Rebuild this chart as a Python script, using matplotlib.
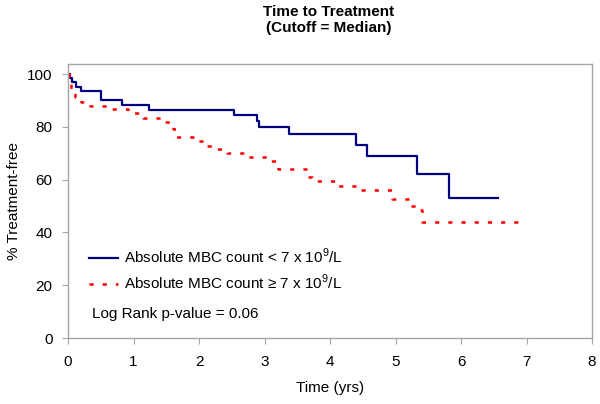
import matplotlib
matplotlib.use("Agg")
import matplotlib.pyplot as plt

plt.rcParams['font.family'] = ['Liberation Sans', 'DejaVu Sans']
plt.rcParams['mathtext.fontset'] = 'custom'
plt.rcParams['mathtext.rm'] = 'Liberation Sans'
plt.rcParams['lines.scale_dashes'] = False

# Blue group: Absolute MBC count < 7 x 10^9/L
blue_t = [0.00, 0.03, 0.066, 0.12, 0.20, 0.51, 0.83, 1.23, 2.54, 2.88, 2.92, 3.38, 4.40, 4.57, 5.33, 5.81, 6.56]
blue_s = [100, 98.4, 96.8, 95.2, 93.5, 90.3, 88.3, 86.2, 84.4, 82.2, 79.9, 77.2, 73.3, 69.0, 62.0, 53.2, 53.2]

# Red group: Absolute MBC count >= 7 x 10^9/L
red_t = [0.00, 0.02, 0.04, 0.10, 0.20, 0.33, 0.62, 0.92, 1.15, 1.48, 1.60, 1.65, 1.98, 2.12, 2.28, 2.42,
         2.75, 3.08, 3.20, 3.66, 3.72, 4.10, 4.45, 4.95, 5.22, 5.35, 5.40, 6.87]
red_s = [100, 97.0, 94.0, 91.3, 89.4, 87.9, 86.6, 85.3, 83.4, 82.0, 79.0, 76.0, 74.5, 72.9, 71.6, 70.0,
         68.4, 67.0, 64.0, 61.0, 59.4, 57.7, 56.0, 52.8, 50.0, 48.5, 44.0, 44.0]

labels = ["Absolute MBC count < 7 x 10$^{9}$/L", "Absolute MBC count \u2265 7 x 10$^{9}$/L"]
x_ticks = list(range(0, 9))
y_ticks = list(range(0, 101, 20))

fig = plt.figure(figsize=(6.0, 4.04), dpi=100)
ax = fig.add_axes([68/600, 1-338/404, (592-68)/600, (338-64)/404])

ax.step(blue_t, blue_s, where='post', color='#000080', lw=1.6, label=labels[0])
ax.step(red_t, red_s, where='post', color='#ff0000', lw=1.8, linestyle=(0, (3.0, 6.5)), label=labels[1])

ax.set_xlim(0, 8)
ax.set_ylim(0, 103.8)
ax.set_xticks(x_ticks)
ax.set_yticks(y_ticks)
for s in ax.spines.values():
    s.set_color('#a6a6a6')
    s.set_linewidth(1.0)
ax.tick_params(axis='both', direction='out', length=4, color='#a6a6a6', labelsize=11, pad=7)
ax.tick_params(axis='x', pad=8)

ax.set_xlabel("Time (yrs)", fontsize=11, labelpad=9)
ax.set_ylabel("% Treatment-free", fontsize=11)
ax.yaxis.set_label_coords((21-68)/524, 0.5)
fig.text(329/600, 1-20/404, "Time to Treatment\n(Cutoff = Median)", ha='center', va='center',
         fontsize=11, fontweight='bold', linespacing=1.15)

leg = ax.legend(loc='upper left', bbox_to_anchor=((89-68)/524, (338-247)/274), frameon=False,
                fontsize=11, handlelength=1.9, handletextpad=0.4, labelspacing=0.42, borderaxespad=0,
                borderpad=0)
ax.text(0.37, 9.2, "Log Rank p-value = 0.06", fontsize=11, va='center', ha='left')

fig.savefig("out.png", dpi=100)
